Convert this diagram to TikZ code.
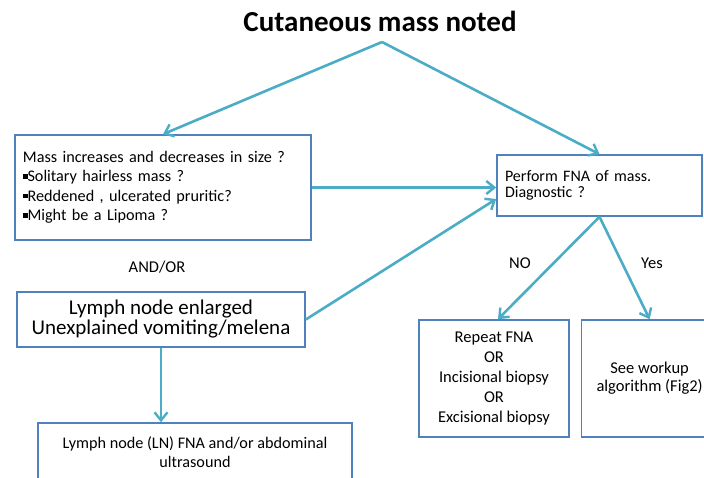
\documentclass[tikz,border=0pt]{standalone}
\usepackage{fontspec}
\setmainfont{Carlito}
\usepackage{tikz}
\usetikzlibrary{arrows.meta}
\usetikzlibrary{positioning}
\definecolor{boxblue}{RGB}{79,129,189}
\definecolor{aqua}{RGB}{75,172,198}
\newcommand{\sqbul}{\raisebox{0.2em}{\rule{0.28em}{0.28em}}}

\begin{document}
\begin{tikzpicture}[x=1pt,y=-1pt,
  box/.style={draw=boxblue,line width=1.6pt,fill=white,inner sep=0pt,font=\fontsize{16.2}{19.5}\selectfont},
  flow/.style={draw=aqua,line width=2.6pt,-{Straight Barb[length=8pt,width=13pt,line width=2.4pt]}},
  tag/.style={font=\fontsize{16.5}{19.5}\selectfont}]
  \clip (0,0) rectangle (704,477);
  \node (title) at (380,31)[anchor=base,font=\fontsize{29}{34}\selectfont\bfseries]{Cutaneous mass noted};
  \coordinate (apex) at (382,42);

  \node (mass) at (163,187.5)[box,minimum width=296pt,minimum height=105pt,text width=280pt,align=left]{Mass increases and decreases in size ?\\
    \sqbul Solitary hairless mass ?\\
    \sqbul Reddened , ulcerated pruritic?\\
    \sqbul Might be a Lipoma ?};
  \node (fna) at (599.5,185.5)[box,minimum width=205pt,minimum height=61pt,text width=189pt,align=left,font=\fontsize{16}{15.5}\selectfont]{Perform FNA of mass.\\Diagnostic ?};
  \node (andor) at (157,267)[tag]{AND/OR};
  \node (lymph) at (161,319.5)[box,minimum width=288pt,minimum height=55pt,align=center,font=\fontsize{21}{20}\selectfont]{Lymph node enlarged\\Unexplained vomiting/melena};
  \node (lnus) at (195,452)[box,minimum width=314pt,minimum height=58pt,align=center]{Lymph node (LN) FNA and/or abdominal\\ultrasound};
  \node (no) at (520,263)[tag]{NO};
  \node (yes) at (652,263)[tag]{Yes};
  \node (rep) at (494,378.5)[box,minimum width=150pt,minimum height=117pt,align=center,font=\fontsize{16.5}{20}\selectfont]{Repeat FNA\\OR\\Incisional biopsy\\OR\\Excisional biopsy};
  \node[right=11pt of rep,box,minimum width=136pt,minimum height=117pt,align=center,font=\fontsize{16.5}{18}\selectfont](see){See workup\\algorithm (Fig2)};

  \draw[flow](apex)--(mass.north);
  \draw[flow](apex)--(fna.north);
  \draw[flow](mass.east)--(mass.east -| fna.west);
  \draw[flow](lymph.east)--([yshift=-13.5pt]fna.west);
  \draw[flow](lymph.south)--(lymph.south |- lnus.north);
  \draw[flow](fna.south)--([xshift=4pt]rep.north);
  \draw[flow](fna.south)--(see.north);
\end{tikzpicture}
\end{document}
